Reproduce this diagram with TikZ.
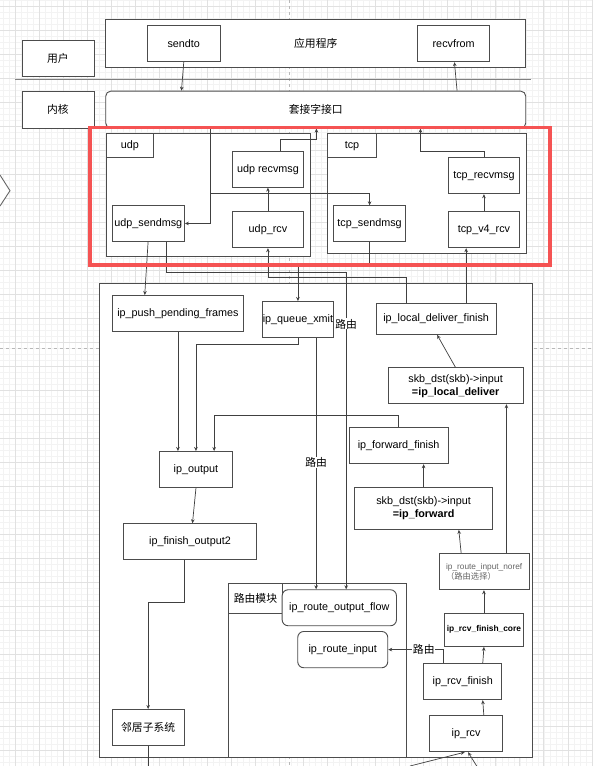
\documentclass[tikz,border=0pt]{standalone}
\usepackage{fontspec}
\setmainfont{Liberation Sans}
\newfontfamily\cjk{Noto Sans CJK SC}
\usetikzlibrary{arrows.meta,calc}
\definecolor{redbox}{RGB}{245,83,83}
\definecolor{gmaj}{RGB}{225,225,225}
\definecolor{gmin}{RGB}{243,243,243}
\begin{document}
\begin{tikzpicture}[x=1pt,y=-1pt,
  sz/.style n args={2}{minimum width=#1pt,minimum height=#2pt},
  bx/.style={draw=black!70, line width=0.9pt, fill=white, inner sep=0pt, align=center,
    anchor=north west, font=\fontsize{10.8}{13}\selectfont},
  rbx/.style={bx, rounded corners=5pt},
  ln/.style={draw=black!75, line width=0.7pt},
  arr/.style={ln, -{Stealth[length=4pt,width=3.6pt]}},
  lbl/.style={fill=white, inner sep=0.5pt, font=\cjk\fontsize{10.8}{13}\selectfont},
]
\useasboundingbox (0,0) rectangle (592,766);
\fill[white] (0,0) rectangle (592,766);
% grid
\foreach \i in {0,...,100} {\draw[gmin, line width=0.4pt] ({-8.72+6.005*\i},0) -- ({-8.72+6.005*\i},766);}
\foreach \i in {0,...,128} {\draw[gmin, line width=0.4pt] (0,{-0.1+6.005*\i}) -- (592,{-0.1+6.005*\i});}
\foreach \i in {0,...,25} {\draw[gmaj, line width=0.5pt] ({-8.72+24.02*\i},0) -- ({-8.72+24.02*\i},766);}
\foreach \i in {0,...,31} {\draw[gmaj, line width=0.5pt] (0,{5.9+24.02*\i}) -- (592,{5.9+24.02*\i});}
% page break lines
\draw[black!28, dash pattern=on 3pt off 3pt, line width=0.6pt] (289,0) -- (289,766);
\draw[black!28, dash pattern=on 3pt off 3pt, line width=0.6pt] (0,348) -- (592,348);
% partial shape at left edge
\draw[black!60, line width=0.9pt, fill=white] (0,175) -- (10,190.7) -- (0,206);

\coordinate (bot) at (0,766);
\coordinate (in1) at (410,766);
\coordinate (in2) at (476.7,766);

% user / kernel
\node[bx, sz={72}{36.3}] (user) at (21.5,40) {\cjk 用户};
\node[bx, sz={72}{37}] (kern) at (21.5,90.7) {\cjk 内核};
\node[bx, sz={420}{48.3}] (app) at (105.3,19) {\cjk 应用程序};
\node[bx, sz={72.6}{36.3}] (sendto) at (147,25) {sendto};
\node[bx, sz={72.4}{36.3}] (recvfrom) at (417,25) {recvfrom};
\draw[black!50, line width=1pt] (15,79) -- (531,79);
\node[rbx, sz={420}{37}] (socket) at (105.3,90.7) {\cjk 套接字接口};

% udp / tcp
\node[bx, sz={204.3}{123.3}] (udpc) at (105.7,132.7) {};
\node[bx, sz={47.6}{24.6}] (udpl) at (105.7,132.7) {udp};
\node[bx, sz={198.4}{120}] (tcpc) at (327.3,133.3) {};
\node[bx, sz={48.4}{24}] (tcpl) at (327.3,133.3) {tcp};
\node[bx, sz={71.6}{35.7}] (urecv) at (231.7,151) {udp recvmsg};
\node[bx, sz={72.3}{35.4}] (usend) at (111.7,205.3) {udp\_sendmsg};
\node[bx, sz={71.6}{36.6}] (urcv) at (231.7,210.7) {udp\_rcv};
\node[bx, sz={71.7}{35.4}] (tsend) at (333.3,205.3) {tcp\_sendmsg};
\node[bx, sz={71.6}{36}] (trecv) at (447.7,157.3) {tcp\_recvmsg};
\node[bx, sz={71.6}{36.6}] (tv4) at (447.7,210.7) {tcp\_v4\_rcv};

% ip layer
\node[bx, sz={432.4}{473.4}] (ipc) at (99.3,283.3) {};
\node[bx, sz={131.6}{36}] (ippush) at (111.7,295) {ip\_push\_pending\_frames};
\node[bx, sz={71.6}{36.3}] (ipq) at (261.7,301) {ip\_queue\_xmit};
\node[bx, sz={120}{30.7}] (ildf) at (375.7,303.3) {ip\_local\_deliver\_finish};
\node[bx, sz={135}{36}] (dstl) at (387.7,367.3) {skb\_dst(skb)->input\\\textbf{=ip\_local\_deliver}};
\node[bx, sz={72.4}{36.3}] (ipout) at (159.3,451) {ip\_output};
\node[bx, sz={99}{36}] (iff) at (348.7,427.3) {ip\_forward\_finish};
\node[bx, sz={138.3}{41.7}] (dstf) at (354,487.3) {skb\_dst(skb)->input\\\textbf{=ip\_forward}};
\node[bx, sz={132.4}{36}] (ipfo2) at (123.3,523.3) {ip\_finish\_output2};
\node[bx, sz={90}{36.3}, align=left, text=black!60, font=\fontsize{8.3}{10}\selectfont] (noref) at (438.7,553) {ip\_route\_input\_noref\\{\cjk （路由选择）}};
\node[bx, sz={72}{36.3}] (neigh) at (111.7,709) {\cjk 邻居子系统};
\node[bx, sz={178}{173.7}] (rmc) at (227.7,583) {};
\node[bx, sz={54.6}{30.3}] (rml) at (227.7,583) {\cjk 路由模块};
\node[bx, rounded corners=6pt, sz={114.3}{36}] (routeout) at (281.7,589.3) {ip\_route\_output\_flow};
\node[bx, rounded corners=6pt, sz={90}{36.3}] (routein) at (297.3,631) {ip\_route\_input};
\node[bx, sz={78.4}{33.3}, font=\bfseries\fontsize{8.4}{10}\selectfont] (rfc) at (444.3,612.7) {ip\_rcv\_finish\_core};
\node[bx, sz={78}{36}] (rf) at (423.3,663.3) {ip\_rcv\_finish};
\node[bx, sz={72.7}{36.3}] (iprcv) at (429.3,715) {ip\_rcv};

% connectors
\draw[arr] (sendto.south) -- ($(sendto.south |- socket.north)+(-2.3,0)$);
\draw[arr] ($(recvfrom.south |- socket.north)+(3.4,0)$) -- ($(recvfrom.south)+(0.8,0)$);
\draw[arr] ($(urecv.north)+(12.5,0)$) -- ++(0,-11.7) -| ($(socket.south)+(0.7,0)$);
\draw[arr] (trecv.north) -- ++(0,-5.6) -| ($(socket.south)+(104.7,0)$);
\draw[arr] (urcv.north) -- (urecv.south);
\draw[arr] (tv4.north) -- (trecv.south);
\draw[arr] ($(socket.south)+(-105.3,0)$) |- (usend.east);
\draw[arr] ($(socket.south)+(-105.3,0)$) -- ++(0,65) -| (tsend.north);
\draw[arr] ($(usend.south)+(-0.2,0)$) -- ($(ippush.north)+(-33.2,0)$);
\draw[arr] ($(usend.south)+(18.2,0)$) -- ++(0,30.3) -| node[lbl,pos=0.582]{路由} ($(routeout.north)+(6.9,0)$);
\draw[arr] ($(ipq.south)+(18.2,0)$) -- node[lbl,pos=0.495]{路由} ($(ipq.south |- routeout.north)+(18.2,0)$);
\draw[arr] (tsend.south) -- ++(0,24.3) -| (ipq.north);
\draw[arr] ($(ildf.north)+(-30,0)$) -- ++(0,-26) -| (urcv.south);
\draw[arr] ($(ildf.north)+(30,0)$) -- ($(ildf.north |- tv4.south)+(30,0)$);
\draw[arr] ($(dstl.north)+(-0.2,0)$) -- ($(ildf.south)+(1,0)$);
\draw[arr] (ipq.south) -- ++(0,6) -| (ipout.north);
\draw[arr] (ippush.south) -- (ippush.south |- ipout.north);
\draw[arr] (iff.north) -- ++(0,-11.6) -| ($(ipout.north)+(18.2,0)$);
\draw[arr] (dstf.north) -- (dstf.north |- iff.south);
\draw[arr] (ipout.south) -- ($(ipfo2.north)+(2.5,0)$);
\draw[arr] ($(ipfo2.south)+(-5.2,0)$) -- ++(0,41.7) -| (neigh.north);
\draw[ln] (neigh.south) -- (neigh.south |- bot);
\draw[arr] ($(noref.north)+(-23,0)$) -- ($(dstf.south)+(35.2,0)$);
\draw[arr] ($(noref.north)+(22.3,0)$) -- ($(noref.north |- dstl.south)+(22.3,0)$);
\draw[arr] (rfc.north) -- (rfc.north |- noref.south);
\draw[arr] ($(rf.north)+(20,0)$) -- (rfc.south);
\draw[arr] ($(rf.north)+(-19,0)$) |- node[lbl,pos=0.68]{路由} (routein.east);
\draw[arr] ($(iprcv.north)+(17.7,0)$) -- ($(rf.south)+(20,0)$);
\draw[arr] (in1) -- ($(iprcv.south)+(-1.4,0)$);
\draw[arr] (in2) -- ($(iprcv.south)+(2,0)$);

% highlight
\draw[redbox, line width=3.3pt] (90,127.7) rectangle (550,265);
\end{tikzpicture}
\end{document}
